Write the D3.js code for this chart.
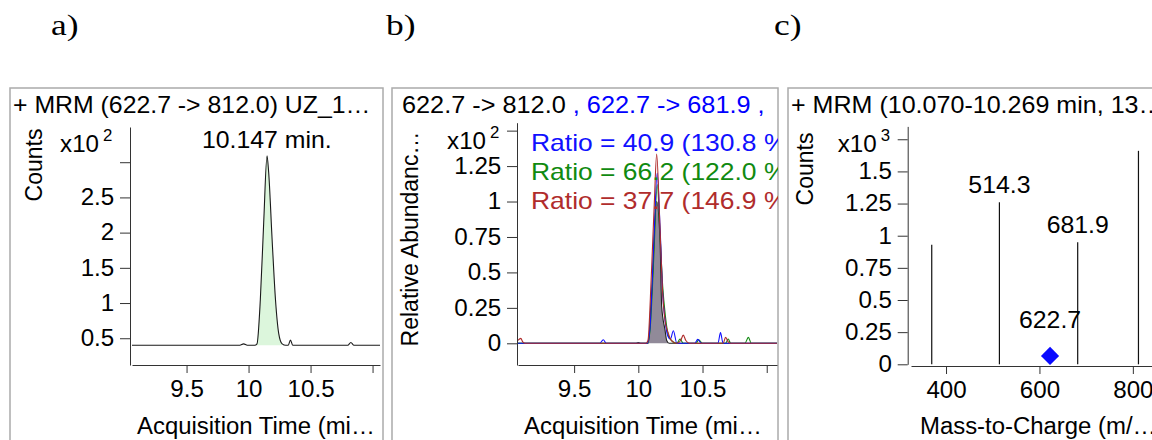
<!DOCTYPE html>
<html>
<head>
<meta charset="utf-8">
<script src="https://cdn.jsdelivr.net/npm/d3@7"></script>
<style>
  body { margin: 0; background: #fff; }
  svg { display: block; font-family: "Liberation Sans", Arial, sans-serif; }
</style>
</head>
<body>
<svg id="fig" width="1152" height="440"></svg>
<script>
// panel letters
const panelLetters = ["a)", "b)", "c)"];

// a) quantifier 622.7 -> 812.0, counts x10^2
const timeA = [9.06, 9.93, 9.96, 9.99, 10.05, 10.068, 10.095, 10.122, 10.149, 10.162, 10.19, 10.217, 10.243, 10.271, 10.3, 10.32, 10.338, 10.356, 10.38, 10.8, 10.825, 10.85, 11.06];
const countsA = [0.40, 0.40, 0.42, 0.40, 0.40, 0.42, 1.05, 2.14, 3.09, 2.86, 1.90, 1.05, 0.57, 0.42, 0.40, 0.40, 0.475, 0.40, 0.40, 0.40, 0.44, 0.40, 0.40];
const baselineA = 0.40;
const integrationA = [10.06, 10.28];
const peakLabelA = "10.147 min.";
const peakTimeA = 10.147;
const yTicksA = [0.5, 1, 1.5, 2, 2.5, 3];
const yTickLabelsA = ["0.5", "1", "1.5", "2", "2.5", ""];

// shared time ticks for a) and b)
const xTicksTime = [9.5, 10, 10.5, 11];
const xTickLabelsTime = ["9.5", "10", "10.5", ""];

// b) overlaid transitions, relative abundance x10^2
const timeQuant = [9.063, 9.98, 10.0, 10.02, 10.078, 10.097, 10.112, 10.122, 10.143, 10.169, 10.182, 10.208, 10.221, 10.24, 11.08];
const valQuant = [0, 0, 0.006, 0, 0, 0.26, 0.49, 0.73, 1.0, 0.73, 0.26, 0.094, 0.02, 0, 0];
const timeBlue = [9.063, 9.70, 9.727, 9.75, 10.07, 10.09, 10.12, 10.147, 10.17, 10.19, 10.21, 10.23, 10.25, 10.273, 10.30, 10.44, 10.463, 10.49, 10.62, 10.64, 10.66, 11.08];
const valBlue = [0, 0, 0.025, 0, 0, 0.10, 0.70, 1.20, 0.80, 0.35, 0.15, 0.05, 0.03, 0.089, 0, 0, 0.028, 0, 0, 0.075, 0, 0];
const timeGreen = [9.063, 10.07, 10.09, 10.12, 10.147, 10.17, 10.19, 10.21, 10.24, 10.30, 10.325, 10.35, 10.45, 10.47, 10.50, 10.68, 10.70, 10.72, 10.83, 10.857, 10.88, 11.08];
const valGreen = [0, 0, 0.08, 0.60, 1.12, 0.75, 0.40, 0.20, 0.04, 0, 0.03, 0, 0, 0.025, 0, 0, 0.03, 0, 0, 0.042, 0, 0];
const timeBrown = [9.063, 9.085, 9.10, 9.12, 10.06, 10.075, 10.10, 10.125, 10.143, 10.165, 10.19, 10.21, 10.23, 10.25, 10.27, 10.30, 10.33, 10.35, 10.37, 10.40, 10.66, 10.68, 10.70, 10.72, 11.08];
const valBrown = [0.02, 0.035, 0.01, 0, 0, 0.02, 0.45, 1.0, 1.335, 0.90, 0.35, 0.15, 0.08, 0.03, 0.01, 0, 0.02, 0.058, 0.02, 0, 0, 0.042, 0.01, 0, 0];
const ratioLabels = ["Ratio = 40.9 (130.8 %)", "Ratio = 66.2 (122.0 %)", "Ratio = 37.7 (146.9 %)"];
const transitionB = ["622.7 -> 812.0", " , 622.7 -> 681.9 ,"];
const yTicksB = [0, 0.25, 0.5, 0.75, 1, 1.25, 1.5];
const yTickLabelsB = ["0", "0.25", "0.5", "0.75", "1", "1.25", ""];

// c) product ion spectrum, counts x10^3
const mzC = [369.4, 514.3, 681.9, 812.0];
const countsC = [0.93, 1.26, 0.95, 1.66];
const peakLabelsC = ["", "514.3", "681.9", ""];
const precursorMz = 622.7;
const precursorLevel = 0.065;
const xTicksC = [400, 600, 800];
const yTicksC = [0, 0.25, 0.5, 0.75, 1, 1.25, 1.5, 1.75];
const yTickLabelsC = ["0", "0.25", "0.5", "0.75", "1", "1.25", "1.5", ""];

const titles = ["+ MRM (622.7 -> 812.0) UZ_1\u2026", null, "+ MRM (10.070-10.269 min, 13\u2026"];
const xTitles = ["Acquisition Time (mi\u2026", "Acquisition Time (mi\u2026", "Mass-to-Charge (m/\u2026"];
const yTitles = ["Counts", "Relative Abundanc\u2026", "Counts"];

const FS = 23;     // text size of the instrument plots
const WIDE = 1.08; // the source figure is a bit wider than tall

const svg = d3.select("#fig");
const defs = svg.append("defs");

// text widened horizontally around its anchor point
function label(g, x, y, str, size, k) {
    return g.append("text")
        .attr("transform", "translate(" + x + "," + y + ") scale(" + (k || WIDE) + ",1)")
        .attr("font-size", size || FS)
        .text(str);
}

// framed panel box, clipped at its right side
function panel(id, x0, x1) {
    defs.append("clipPath").attr("id", id)
      .append("rect").attr("x", x0).attr("y", 88).attr("width", x1 - x0).attr("height", 360);
    svg.append("rect")
        .attr("x", x0).attr("y", 88)
        .attr("width", x1 - x0).attr("height", 400)
        .attr("fill", "none")
        .attr("stroke", "#ababab")
        .attr("stroke-width", 1.5);
    return svg.append("g").attr("clip-path", "url(#" + id + ")");
}

function axes(g, x, y, xAxisY, yAxisX, xTicks, xLabels, yTicks, yLabels) {
    g.append("g")
        .attr("transform", "translate(0," + xAxisY + ")")
        .call(d3.axisBottom(x).tickValues(xTicks).tickFormat((d, i) => xLabels[i])
            .tickSize(8).tickSizeOuter(0).tickPadding(8))
        .attr("font-size", FS).attr("font-family", null).attr("color", "#333");
    g.append("g")
        .attr("transform", "translate(" + yAxisX + ",0)")
        .call(d3.axisLeft(y).tickValues(yTicks).tickFormat((d, i) => yLabels[i])
            .tickSize(10).tickSizeOuter(0).tickPadding(5))
        .attr("font-size", FS).attr("font-family", null).attr("color", "#333");
    g.selectAll(".tick text").attr("fill", "#000")
        .attr("transform", "scale(1.05,1)");
}

function exponent(g, axisX, baseY, power) {
    label(g, axisX - 31, baseY, "x10", FS, 1.05).attr("text-anchor", "end");
    label(g, axisX - 27, baseY - 11, power, 16, 1.05);
}

function yTitle(g, x, y, txt) {
    g.append("text")
        .attr("transform", "translate(" + x + "," + y + ") rotate(-90)")
        .attr("text-anchor", "middle").attr("font-size", FS).text(txt);
}

// panel letters
[51, 386, 774].forEach((x, i) => {
    label(svg, x, 35, panelLetters[i], 30, 1.18)
        .attr("font-family", "Liberation Serif, Times New Roman, serif");
});

// ---- a) ----
const gA = panel("clipA", 10, 383);
const xA = d3.scaleLinear().domain([9.06, 11.06]).range([132, 380]);
const yA = d3.scaleLinear().domain([0.12, 3.5]).range([365, 127]);
const ptsA = timeA.map((t, i) => [t, countsA[i]]);

label(gA, 13, 113, titles[0]);
axes(gA, xA, yA, 365, 130, xTicksTime, xTickLabelsTime, yTicksA, yTickLabelsA);
exponent(gA, 130, 152, "2");
yTitle(gA, 42, 165, yTitles[0]);
label(gA, 137, 434, xTitles[0], FS, 1.04);

gA.append("path")
    .datum(ptsA.filter(p => p[0] >= integrationA[0] && p[0] <= integrationA[1]))
    .attr("fill", "#dcf6dc")
    .attr("d", d3.area().curve(d3.curveMonotoneX)
        .x(d => xA(d[0])).y0(yA(baselineA)).y1(d => yA(d[1])));
gA.append("path")
    .datum(ptsA)
    .attr("fill", "none").attr("stroke", "#1a1a1a").attr("stroke-width", 1.1)
    .attr("d", d3.line().curve(d3.curveMonotoneX).x(d => xA(d[0])).y(d => yA(d[1])));
label(gA, xA(peakTimeA), yA(d3.max(countsA)) - 8, peakLabelA)
    .attr("text-anchor", "middle");

// ---- b) ----
const gB = panel("clipB", 392, 778);
const xB = d3.scaleLinear().domain([9.063, 11.08]).range([518, 777]);
const yB = d3.scaleLinear().domain([-0.153, 1.556]).range([365, 122.7]);

const title = label(gB, 402, 113, null, FS, 1.1);
title.append("tspan").attr("fill", "#000").text(transitionB[0]);
title.append("tspan").attr("fill", "#0000ff").text(transitionB[1]);

axes(gB, xB, yB, 365, 517, xTicksTime, xTickLabelsTime, yTicksB, yTickLabelsB);
exponent(gB, 517, 149, "2");
yTitle(gB, 418, 239, yTitles[1]);
label(gB, 524, 434, xTitles[1], FS, 1.04);

const lineB = d3.line().curve(d3.curveMonotoneX).x(d => xB(d[0])).y(d => yB(d[1]));
const quantPts = timeQuant.map((t, i) => [t, valQuant[i]]);
gB.append("path").datum(quantPts)
    .attr("fill", "#918a99")
    .attr("d", d3.area().curve(d3.curveMonotoneX).x(d => xB(d[0])).y0(yB(0)).y1(d => yB(d[1])));

const tracesB = [
    {t: timeQuant, v: valQuant, color: "#202020"},
    {t: timeGreen, v: valGreen, color: "#108a10"},
    {t: timeBlue, v: valBlue, color: "#1010ff"},
    {t: timeBrown, v: valBrown, color: "#b02c2c"}
];
tracesB.forEach(tr => {
    gB.append("path").datum(tr.t.map((t, i) => [t, tr.v[i]]))
        .attr("fill", "none").attr("stroke", tr.color).attr("stroke-width", 1.1)
        .attr("d", lineB);
});

const ratioColors = ["#1010ff", "#108a10", "#b02c2c"];
ratioLabels.forEach((txt, i) => {
    label(gB, 531, 151 + i * 28.8, txt, FS, 1.15).attr("fill", ratioColors[i]);
});

// ---- c) ----
const gC = panel("clipC", 788, 1160);
const xC = d3.scaleLinear().domain([325, 841]).range([911, 1152]);
const yC = d3.scaleLinear().domain([0, 1.85]).range([364.3, 126.4]);

label(gC, 791, 113, titles[2], FS, 1.09);
axes(gC, xC, yC, 366, 907.7, xTicksC, xTicksC.map(String), yTicksC, yTickLabelsC);
exponent(gC, 907.7, 152, "3");
yTitle(gC, 813, 169, yTitles[2]);
label(gC, 920, 434, xTitles[2], FS, 1.04);

gC.selectAll(".stick")
    .data(mzC)
  .enter().append("line")
    .attr("x1", d => xC(d)).attr("x2", d => xC(d))
    .attr("y1", yC(0)).attr("y2", (d, i) => yC(countsC[i]))
    .attr("stroke", "#111").attr("stroke-width", 1.2);

mzC.forEach((mz, i) => {
    if (peakLabelsC[i]) {
        label(gC, xC(mz), yC(countsC[i]) - 9, peakLabelsC[i]).attr("text-anchor", "middle");
    }
});

gC.append("path")
    .attr("d", d3.symbol(d3.symbolSquare, 165)())
    .attr("transform", "translate(" + xC(precursorMz) + "," + yC(precursorLevel) + ") rotate(45)")
    .attr("fill", "#0a0aff");
label(gC, xC(precursorMz), yC(precursorLevel) - 28, precursorMz.toFixed(1))
    .attr("text-anchor", "middle");
</script>
</body>
</html>
